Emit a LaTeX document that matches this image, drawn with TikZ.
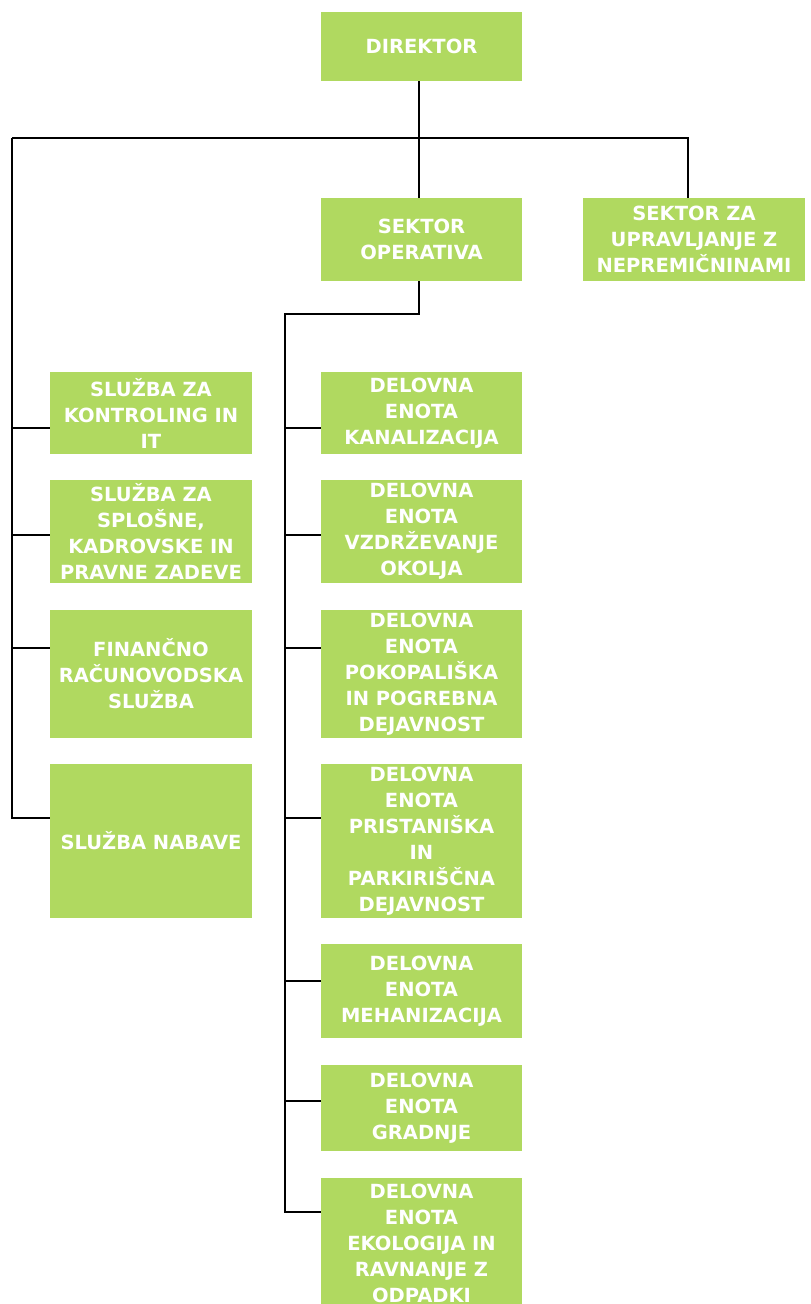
\documentclass[tikz,border=0pt]{standalone}
\usepackage{fontspec}
\setmainfont{DejaVu Sans}
\definecolor{boxgreen}{RGB}{176,217,96}
\begin{document}
\begin{tikzpicture}[x=1pt,y=-1pt,
  orgbox/.style={fill=boxgreen,text=white,align=center,inner sep=0pt,
    font=\bfseries\fontsize{19.5}{26}\selectfont,anchor=center},
  conn/.style={draw=black,line width=2pt}]
\useasboundingbox (0,0) rectangle (811,1304);
% top
\node[orgbox,minimum width=201pt,minimum height=69pt] (dir) at (421.5,46.5) {DIREKTOR};
\node[orgbox,minimum width=201pt,minimum height=83pt] (op) at (421.5,239.5) {SEKTOR\\OPERATIVA};
\node[orgbox,minimum width=222pt,minimum height=83pt] (nep) at (694,239.5) {SEKTOR ZA\\UPRAVLJANJE Z\\NEPREMIČNINAMI};
% left column
\node[orgbox,minimum width=202pt,minimum height=82pt] (kon) at (151,413) {SLUŽBA ZA\\KONTROLING IN\\IT};
\node[orgbox,minimum width=202pt,minimum height=103pt] (spl) at (151,531.5) {SLUŽBA ZA\\SPLOŠNE,\\KADROVSKE IN\\PRAVNE ZADEVE};
\node[orgbox,minimum width=202pt,minimum height=128pt] (fin) at (151,674) {FINANČNO\\RAČUNOVODSKA\\SLUŽBA};
\node[orgbox,minimum width=202pt,minimum height=154pt] (nab) at (151,841) {SLUŽBA NABAVE};
% middle column
\node[orgbox,minimum width=201pt,minimum height=82pt] (kan) at (421.5,413) {DELOVNA\\ENOTA\\KANALIZACIJA};
\node[orgbox,minimum width=201pt,minimum height=103pt] (vzd) at (421.5,531.5) {DELOVNA\\ENOTA\\VZDRŽEVANJE\\OKOLJA};
\node[orgbox,minimum width=201pt,minimum height=128pt] (pok) at (421.5,674) {DELOVNA\\ENOTA\\POKOPALIŠKA\\IN POGREBNA\\DEJAVNOST};
\node[orgbox,minimum width=201pt,minimum height=154pt] (pri) at (421.5,841) {DELOVNA\\ENOTA\\PRISTANIŠKA\\IN\\PARKIRIŠČNA\\DEJAVNOST};
\node[orgbox,minimum width=201pt,minimum height=94pt] (meh) at (421.5,991) {DELOVNA\\ENOTA\\MEHANIZACIJA};
\node[orgbox,minimum width=201pt,minimum height=86pt] (gra) at (421.5,1108) {DELOVNA\\ENOTA\\GRADNJE};
\node[orgbox,minimum width=201pt,minimum height=130pt] (eko) at (421.5,1243) {DELOVNA\\ENOTA\\EKOLOGIJA IN\\RAVNANJE Z\\ODPADKI};
% connector coordinates
\coordinate (top) at (419,138);
\coordinate (lefttop) at (12,138);
\coordinate (righttop) at (688,138);
\coordinate (leftbot) at (12,818);
\coordinate (opmid) at (419,314);
\coordinate (optop) at (285,314);
\coordinate (opbot) at (285,1212);
% lines
\draw[conn] (dir.south -| top) -- (op.north -| top);
\draw[conn] (lefttop) -- (righttop) -- (nep.north -| righttop);
\draw[conn] (lefttop) -- (leftbot) -- (nab.west |- leftbot);
\draw[conn] (12,428) -- (kon.west |- 0,428);
\draw[conn] (12,535) -- (spl.west |- 0,535);
\draw[conn] (12,648) -- (fin.west |- 0,648);
\draw[conn] (op.south -| opmid) -- (opmid) -- (optop) -- (opbot) -- (eko.west |- opbot);
\draw[conn] (285,428) -- (kan.west |- 0,428);
\draw[conn] (285,535) -- (vzd.west |- 0,535);
\draw[conn] (285,648) -- (pok.west |- 0,648);
\draw[conn] (285,818) -- (pri.west |- 0,818);
\draw[conn] (285,981) -- (meh.west |- 0,981);
\draw[conn] (285,1101) -- (gra.west |- 0,1101);
\end{tikzpicture}
\end{document}
